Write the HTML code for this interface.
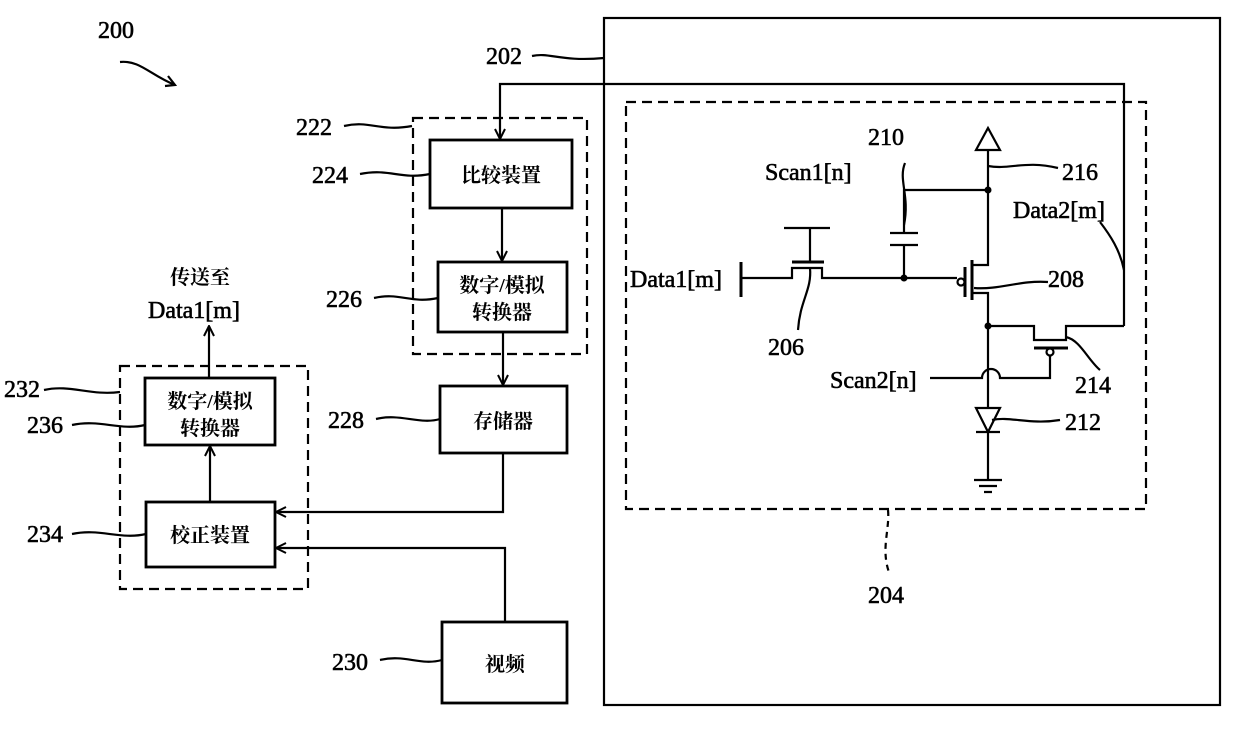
<!DOCTYPE html>
<html><head><meta charset="utf-8"><style>
html,body{margin:0;padding:0;background:#fff}
svg text{font-family:"Liberation Serif","Noto Serif CJK SC",serif;fill:#000}
.n{font-size:24px;stroke:#000;stroke-width:0.6}
.c{font-size:20px;font-weight:bold;font-family:"Liberation Serif","Noto Serif CJK SC",serif}
</style></head><body>
<svg width="1240" height="731" viewBox="0 0 1240 731" xmlns="http://www.w3.org/2000/svg">
<defs><marker id="a" viewBox="0 0 12 12" refX="11" refY="6" markerWidth="12" markerHeight="12" markerUnits="userSpaceOnUse" orient="auto"><path d="M1,1 L11,6 L1,11" fill="none" stroke="#000" stroke-width="2"/></marker></defs>
<g fill="none" stroke="#000" stroke-width="2.2">
<rect x="604" y="18" width="616" height="687"/>
<rect x="626" y="102" width="520" height="407" stroke-dasharray="10,6"/>
<rect x="413" y="118" width="174" height="236" stroke-dasharray="10,6"/>
<rect x="120" y="366" width="188" height="223" stroke-dasharray="10,6"/>
<rect x="430" y="140" width="142" height="68" stroke-width="2.8"/>
<rect x="438" y="262" width="129" height="70" stroke-width="2.8"/>
<rect x="440" y="386" width="127" height="67" stroke-width="2.8"/>
<rect x="442" y="622" width="125" height="81" stroke-width="2.8"/>
<rect x="145" y="378" width="130" height="67" stroke-width="2.8"/>
<rect x="146" y="502" width="129" height="65" stroke-width="2.8"/>
<path d="M1124,326 V84 H500 V139" marker-end="url(#a)"/>
<path d="M502,208 V261" marker-end="url(#a)"/>
<path d="M503,332 V385" marker-end="url(#a)"/>
<path d="M503,453 V512 H276" marker-end="url(#a)"/>
<path d="M505,622 V548 H276" marker-end="url(#a)"/>
<path d="M210,502 V446" marker-end="url(#a)"/>
<path d="M209,378 V326" marker-end="url(#a)"/>
<path d="M120,62 C140,60 150,75 175,85"/><path d="M168,76 L175,85 L165,86"/>
<path d="M532,56 C550,52 560,62 604,58"/>
<path d="M344,126 C370,120 380,132 412,126"/>
<path d="M360,174 C390,168 400,180 430,174"/>
<path d="M374,298 C400,292 410,304 438,298"/>
<path d="M376,419 C400,413 420,425 440,419"/>
<path d="M380,660 C405,654 420,666 442,660"/>
<path d="M44,390 C70,384 90,396 120,392"/>
<path d="M72,425 C100,419 120,431 145,425"/>
<path d="M72,534 C100,528 120,540 146,534"/>
<path d="M888,510 C890,530 880,550 890,575" stroke-dasharray="6,5"/>
<path d="M976,150 L988,128 L1000,150 Z"/>
<path d="M988,150 V265 H972 M972,293 H988 V408"/>
<path d="M972,260 V300" stroke-width="3"/>
<path d="M965,267 V297" stroke-width="3"/>
<circle cx="961" cy="282" r="3.5"/>
<path d="M741,278 H792 V268 H822 V278 H957"/>
<path d="M741,262 V297" stroke-width="3"/>
<path d="M792,262 H824" stroke-width="3"/>
<path d="M810,262 V228 M784,228 H830"/>
<path d="M988,190 H904 V233 M890,233 H918 M890,245 H918 M904,245 V278"/>
<path d="M988,326 H1034 V340 H1066 V326 H1124"/>
<path d="M1034,348 H1068" stroke-width="3"/>
<circle cx="1050" cy="352" r="3.5"/>
<path d="M1050,356 V378 H1000 A6,6 0 0 0 982,378 H930"/>
<path d="M976,408 H1000 L988,432 Z"/><path d="M976,432 H1000"/>
<path d="M988,432 V480 M974,480 H1002 M979,486 H997 M984,492 H992"/>
<path d="M905,163 C898,180 910,195 904,225"/>
<path d="M988,166 C1010,170 1025,160 1058,168"/>
<path d="M1100,222 C1110,235 1120,250 1124,270"/>
<path d="M974,288 C1000,290 1020,280 1048,282"/>
<path d="M810,268 C812,290 800,300 798,330"/>
<path d="M1066,337 C1080,340 1088,360 1100,370"/>
<path d="M992,420 C1010,416 1030,425 1060,420"/>
</g>
<g fill="#000"><circle cx="988" cy="190" r="3.5"/><circle cx="904" cy="278" r="3.5"/><circle cx="988" cy="326" r="3.5"/></g>
<g class="n">
<text x="98" y="38">200</text>
<text x="486" y="64">202</text>
<text x="296" y="135">222</text>
<text x="312" y="183">224</text>
<text x="326" y="307">226</text>
<text x="328" y="428">228</text>
<text x="332" y="670">230</text>
<text x="4" y="397">232</text>
<text x="27" y="433">236</text>
<text x="27" y="542">234</text>
<text x="148" y="318">Data1[m]</text>
<text x="868" y="145">210</text>
<text x="765" y="180">Scan1[n]</text>
<text x="1062" y="180">216</text>
<text x="1013" y="218">Data2[m]</text>
<text x="1048" y="287">208</text>
<text x="630" y="287">Data1[m]</text>
<text x="768" y="355">206</text>
<text x="830" y="388">Scan2[n]</text>
<text x="1075" y="393">214</text>
<text x="1065" y="430">212</text>
<text x="868" y="603">204</text>
</g>
<g class="c" text-anchor="middle">
<text x="501" y="182">比较装置</text>
<text x="502" y="292">数字/模拟</text>
<text x="502" y="319">转换器</text>
<text x="503" y="428">存储器</text>
<text x="505" y="671">视频</text>
<text x="210" y="408">数字/模拟</text>
<text x="210" y="435">转换器</text>
<text x="210" y="542">校正装置</text>
<text x="200" y="284">传送至</text>
</g>
</svg>
</body></html>
